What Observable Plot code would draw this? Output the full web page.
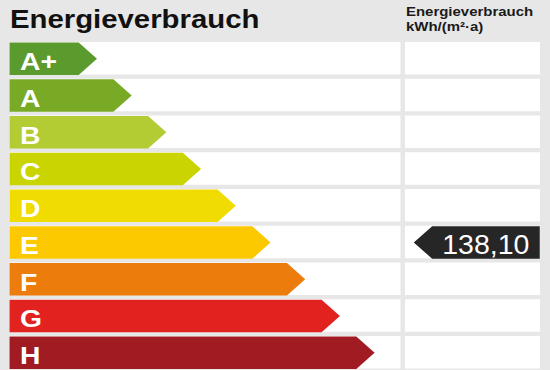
<!DOCTYPE html>
<html>
<head>
<meta charset="utf-8">
<script src="https://cdn.jsdelivr.net/npm/d3@7"></script>
<script src="https://cdn.jsdelivr.net/npm/@observablehq/plot@0.6"></script>
<style>
  html, body { margin: 0; padding: 0; background: #e7e7e7; }
  #wrap { width: 550px; height: 370px; position: relative; overflow: hidden; }
  #header { position: relative; height: 42px; }
  #title { position: absolute; left: 9.5px; top: 6.7px; font: bold 25.5px "Liberation Sans", Arial, sans-serif; line-height: 25.5px; color: #111; transform: scaleX(1.15); transform-origin: 0 0; white-space: nowrap; }
  #colhead { position: absolute; left: 405.5px; top: 3.6px; font: bold 13px "Liberation Sans", Arial, sans-serif; line-height: 15.7px; color: #1a1a1a; transform: scaleX(1.15); transform-origin: 0 0; white-space: nowrap; }
  #chart svg { display: block; }
</style>
</head>
<body>
<div id="wrap">
  <div id="header"><div id="title"></div><div id="colhead"></div></div>
  <div id="chart"></div>
</div>
<script>
// ---- data ----
const classes = ["A+", "A", "B", "C", "D", "E", "F", "G", "H"];
const classColors = ["#5b9a2d", "#79aa26", "#b4cc34", "#c9d400", "#f0dc00", "#fcc800", "#ec7c0b", "#e2221e", "#a11b23"];
const consumption = 138.10;
const consumptionClass = "E";
const titleText = "Energieverbrauch";
const columnHeader = ["Energieverbrauch", "kWh/(m²·a)"];

// ---- layout (in "class step" units of the x scale and row units of the y scale) ----
const FIRST_LEN = 2.52, HEAD = 0.527, HALF = 0.442;
const LEFT_END = 11.28, COL_X1 = 11.41, COL_X2 = 15.30;
const MARK_TIP = 11.648, MARK_FLAT = 12.178, MARK_RIGHT = 15.278, MARK_TEXT = 14.98;
const LETTER_STRETCH = 1.18;

document.getElementById("title").textContent = titleText;
document.getElementById("colhead").innerHTML = columnHeader.join("<br>");

const rows = classes.map((c, i) => ({cls: c, i, color: classColors[i]}));

const arrowPts = rows.flatMap(r => {
  const tip = FIRST_LEN + r.i;
  return [[0, r.i - HALF], [tip - HEAD, r.i - HALF], [tip, r.i], [tip - HEAD, r.i + HALF], [0, r.i + HALF]]
    .map(([x, y]) => ({cls: r.cls, x, y, color: r.color}));
});

const k = classes.indexOf(consumptionClass);
const markerPts = [[MARK_TIP, k], [MARK_FLAT, k - HALF], [MARK_RIGHT, k - HALF], [MARK_RIGHT, k + HALF], [MARK_FLAT, k + HALF]]
  .map(([x, y]) => ({x, y}));

const de = d3.formatLocale({decimal: ",", thousands: ".", grouping: [3], currency: ["", " €"]});
const fmt = de.format(".2f");

const chart = Plot.plot({
  width: 550,
  height: 328,
  margin: 0,
  style: {background: "transparent", overflow: "visible"},
  x: {domain: [0, LEFT_END], range: [9, 400.5], axis: null},
  y: {domain: [-0.5, 8.5], range: [-2.125, 328.625], axis: null},
  color: {type: "identity"},
  marks: [
    Plot.rect(rows, {x1: 0, x2: LEFT_END, y1: d => d.i - HALF, y2: d => d.i + HALF, fill: "white"}),
    Plot.rect(rows, {x1: COL_X1, x2: COL_X2, y1: d => d.i - HALF, y2: d => d.i + HALF, fill: "white"}),
    Plot.line(arrowPts, {x: "x", y: "y", z: "cls", fill: "color", stroke: "none"}),
    Plot.text(rows, {x: 0, y: "i", text: "cls", dx: 10.5, dy: 3.8, textAnchor: "start", fill: "white",
      fontSize: 24, fontWeight: "bold", fontFamily: "Liberation Sans, Arial, sans-serif"}),
    Plot.line(markerPts, {x: "x", y: "y", fill: "#262626", stroke: "none"}),
    Plot.text([consumption], {x: MARK_TEXT, y: k, text: d => fmt(d), textAnchor: "end", dy: 2.2, fill: "white",
      fontSize: 28.5, fontFamily: "Liberation Sans, Arial, sans-serif"})
  ]
});

// widen the class letters a little, as in the reference
const letterGroup = chart.querySelectorAll('g[aria-label="text"]')[0];
if (letterGroup) {
  letterGroup.querySelectorAll("text").forEach(t => {
    const tr = t.getAttribute("transform");
    if (tr) {
      t.setAttribute("transform", tr + ` scale(${LETTER_STRETCH},1)`);
    } else {
      const x = +t.getAttribute("x") || 0, y = +t.getAttribute("y") || 0;
      t.removeAttribute("x"); t.removeAttribute("y");
      t.setAttribute("transform", `translate(${x},${y}) scale(${LETTER_STRETCH},1)`);
    }
  });
}
document.getElementById("chart").appendChild(chart);
</script>
</body>
</html>
